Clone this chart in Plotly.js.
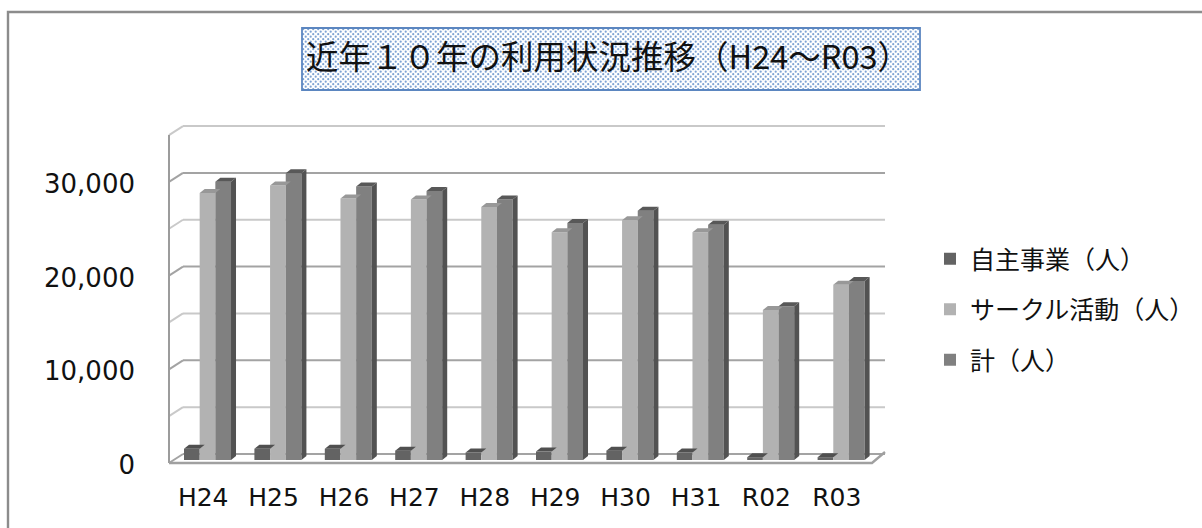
<!DOCTYPE html>
<html><head><meta charset="utf-8">
<script src="https://cdn.plot.ly/plotly-3.0.0.min.js"></script>
<style>html,body{margin:0;padding:0;background:#fff}</style></head>
<body><div id="chart" style="width:1202px;height:528px"></div>
<script>
const categories = ["H24","H25","H26","H27","H28","H29","H30","H31","R02","R03"];
const seriesNames = ["自主事業（人）","サークル活動（人）","計（人）"];
const selfRun = [1200,1200,1200,1000,800,900,1000,800,300,300];
const circle  = [28500,29300,27900,27800,27000,24300,25600,24300,16000,18700];
const total   = [29700,30600,29200,28700,27800,25300,26600,25100,16400,19100];
const yTicks = [0,10000,20000,30000];
const gridValues = [0,5000,10000,15000,20000,25000,30000,35000];
const frontColors = ["#636363","#b2b2b2","#808080"];
const topColors   = ["#505050","#989898","#585858"];
const sideColors  = ["#4d4d4d","#8c8c8c","#525252"];
const titleText = "近年１０年の利用状況推移（H24～R03）";

// Scale: pixel geometry of the pseudo-3D box, converted to data units
const W=1202,H=528, L=168,R=887,T=124,B=466;
const pxPerCat=70.4, pxPerUnit=9.37/1000, zeroX=207.5, zeroY=460;
const dx=p=>p/pxPerCat, dy=p=>p/pxPerUnit;
const xOf=p=>(p-zeroX)/pxPerCat, yOf=p=>(zeroY-p)/pxPerUnit;
const px=p=>(p-L)/(R-L), py=p=>(B-p)/(B-T);
const barW=15.67/pxPerCat;
const series=[selfRun,circle,total];
const shapes=[];
const wallColor=v=>(v/5000)%2===0?"#a3a3a3":"#c9c9c9";
// back wall & left wall lines
const wallShift=dy(3), wallDepthX=14, wallDepthY=9;
gridValues.forEach(v=>{
  const fx=xOf(L+1), fy=v-wallShift, bx=xOf(L+1+wallDepthX), by=fy+dy(wallDepthY);
  const c=wallColor(v);
  shapes.push({type:"line",layer:"below",x0:fx,y0:fy,x1:bx,y1:by,line:{color:c,width:2}});
  shapes.push({type:"line",layer:"below",x0:bx,y0:by,x1:xOf(885),y1:by,line:{color:c,width:2}});
});
shapes.push({type:"line",layer:"below",x0:xOf(L+1),y0:-wallShift,x1:xOf(L+1),y1:35000-wallShift,line:{color:"#9c9c9c",width:2}});
// floor
shapes.push({type:"path",layer:"below",path:`M${xOf(L+1)},${-wallShift}L${xOf(L+704)},${-wallShift}L${xOf(885)},${-wallShift+dy(wallDepthY+2)}`,line:{color:"#a0a0a0",width:2.4}});
// 3-D faces of each bar, computed from the values
const depthX=dx(5), depthY=dy(4);
series.forEach((vals,s)=>{
  vals.forEach((v,i)=>{
    const x0=i+(s-1.5)*barW, x1=x0+barW;
    shapes.push({type:"path",layer:"above",fillcolor:topColors[s],line:{width:0},
      path:`M${x0},${v}L${x1},${v}L${x1+depthX},${v+depthY}L${x0+depthX},${v+depthY}Z`});
    if(s===2) shapes.push({type:"path",layer:"above",fillcolor:sideColors[s],line:{width:0},
      path:`M${x1},${v}L${x1+depthX},${v+depthY}L${x1+depthX},${depthY}L${x1},0Z`});
  });
});
// frame
shapes.push({type:"path",xref:"paper",yref:"paper",layer:"below",line:{color:"#8c8c8c",width:2.4},
  path:`M${px(8)},${py(H)}L${px(8)},${py(12)}L${px(W)},${py(12)}`});
// title box
shapes.push({type:"rect",xref:"paper",yref:"paper",layer:"below",x0:px(302),x1:px(920),y0:py(90),y1:py(28),line:{color:"#5b86c0",width:1.8}});

const dots=`<svg xmlns="http://www.w3.org/2000/svg" width="618" height="62"><defs><pattern id="p" width="5" height="5" patternUnits="userSpaceOnUse"><rect width="5" height="5" fill="#ffffff"/><circle cx="1.2" cy="1.2" r="1.1" fill="#7ea3d3"/><circle cx="3.7" cy="3.7" r="1.1" fill="#7ea3d3"/></pattern></defs><rect width="618" height="62" fill="url(#p)"/></svg>`;

const traces=series.map((vals,s)=>({
  type:"bar",name:seriesNames[s],x:categories.map((c,i)=>i),y:vals,
  hoverinfo:"y+name",
  marker:{color:frontColors[s],line:{width:0}},legendgroup:"g"+s
}));
const layout={
  width:W,height:H,paper_bgcolor:"#fff",plot_bgcolor:"rgba(0,0,0,0)",
  margin:{l:L,r:W-R,t:T,b:H-B,pad:0,autoexpand:false},
  barmode:"group",bargap:1-3*barW,bargroupgap:0,
  font:{family:"DejaVu Sans, sans-serif",color:"#111"},
  title:{text:titleText,font:{family:"Noto Sans CJK JP",size:32.5,color:"#111"},x:608/W,xanchor:"center",xref:"container",y:1-58/H,yanchor:"middle"},
  xaxis:{range:[xOf(L),xOf(R)],tickmode:"array",tickvals:categories.map((c,i)=>i-dx(4.3)),ticktext:categories,
    showgrid:false,zeroline:false,showline:false,ticks:"",ticklen:0,ticklabelstandoff:14,tickfont:{size:25,family:"DejaVu Sans"}},
  yaxis:{range:[yOf(B),yOf(T)],tickmode:"array",tickvals:yTicks.map(v=>v-dy(5)),ticktext:yTicks.map(v=>v.toLocaleString("en-US")),
    showgrid:false,zeroline:false,showline:false,ticks:"",ticklabelstandoff:32,tickfont:{size:26,family:"DejaVu Sans"}},
  legend:{x:px(930),xanchor:"left",y:py(236),yanchor:"top",font:{family:"Noto Sans CJK JP",size:25,color:"#111"},
    traceorder:"grouped",tracegroupgap:15,itemwidth:30,bgcolor:"rgba(0,0,0,0)"},
  showlegend:true,shapes,
  images:[{source:"data:image/svg+xml;utf8,"+encodeURIComponent(dots),xref:"paper",yref:"paper",x:px(302),y:py(28),sizex:618/(R-L),sizey:62/(B-T),xanchor:"left",yanchor:"top",sizing:"stretch",layer:"below"}]
};
Plotly.newPlot("chart",traces,layout,{displayModeBar:false,staticPlot:true});
</script></body></html>
